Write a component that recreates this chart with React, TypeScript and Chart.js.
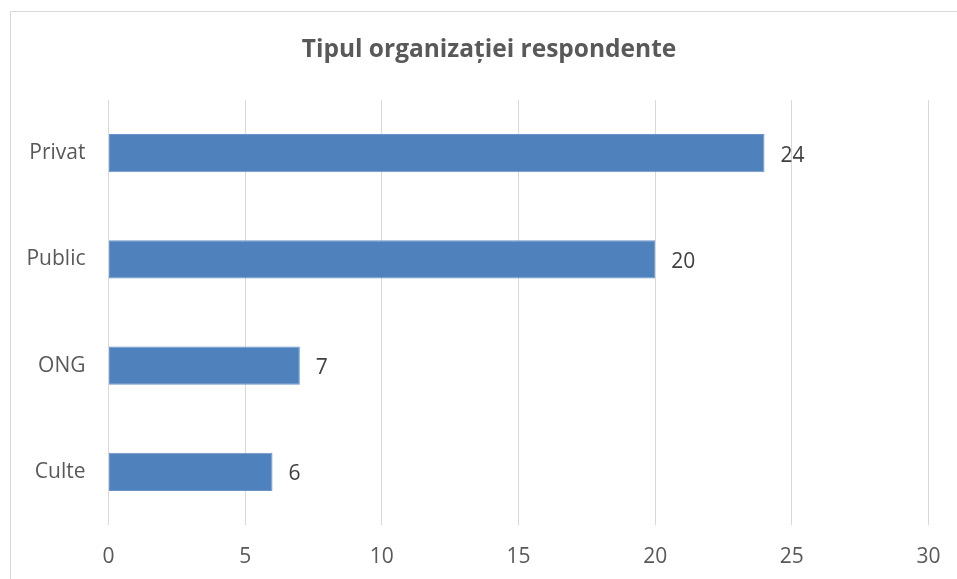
import React, { useEffect, useRef } from "react";
import { Chart, registerables } from "chart.js";

Chart.register(...registerables);

const categories = ["Privat", "Public", "ONG", "Culte"];
const values = [24, 20, 7, 6];
const titleText = "Tipul organizației respondente";
const xMin = 0;
const xMax = 30;
const xStep = 5;

const FONT = "'Open Sans', Lato, sans-serif";

const dataLabelPlugin = {
  id: "dataLabels",
  afterDatasetsDraw(chart: any) {
    const ctx = chart.ctx;
    const meta = chart.getDatasetMeta(0);
    ctx.save();
    ctx.font = `21px ${FONT}`;
    ctx.fillStyle = "#404040";
    ctx.textAlign = "left";
    ctx.textBaseline = "middle";
    meta.data.forEach((bar: any, i: number) => {
      ctx.fillText(String(values[i]), bar.x + 16, bar.y + 2.5);
    });
    ctx.restore();
  },
};

const titlePlugin = {
  id: "customTitle",
  afterDraw(chart: any) {
    const ctx = chart.ctx;
    ctx.save();
    ctx.font = `bold 24.5px ${FONT}`;
    ctx.fillStyle = "#595959";
    ctx.textAlign = "center";
    ctx.textBaseline = "middle";
    ctx.fillText(titleText, 489, 50);
    ctx.restore();
  },
};

export default function App() {
  const ref = useRef<HTMLCanvasElement>(null);
  useEffect(() => {
    if (!ref.current) return;
    const chart = new Chart(ref.current, {
      type: "bar",
      data: {
        labels: categories,
        datasets: [
          {
            data: values,
            backgroundColor: "#4f81bd",
            borderColor: "#6b95c8",
            borderWidth: 1,
            borderSkipped: false,
            barPercentage: 0.36,
            categoryPercentage: 1,
          },
        ],
      },
      options: {
        indexAxis: "y",
        animation: false,
        responsive: false,
        maintainAspectRatio: false,
        layout: { padding: { left: 0, right: 28.5, top: 100, bottom: 0 } },
        plugins: {
          legend: { display: false },
          tooltip: { enabled: false },
          title: { display: false },
        },
        scales: {
          x: {
            min: xMin,
            max: xMax,
            ticks: {
              stepSize: xStep,
              color: "#595959",
              font: { family: FONT, size: 21 },
              padding: 19,
            },
            grid: { color: "#d9d9d9", lineWidth: 1, drawTicks: false },
            border: { display: false },
            afterFit(scale: any) {
              scale.height = 54;
              scale.paddingLeft = 0;
              scale.paddingRight = 0;
            },
          },
          y: {
            ticks: {
              color: "#595959",
              font: { family: FONT, size: 21 },
              padding: 23,
            },
            grid: { display: false, drawTicks: false },
            border: { display: false },
            afterFit(scale: any) {
              scale.width = 108.5;
              scale.paddingTop = 0;
              scale.paddingBottom = 0;
            },
          },
        },
      },
      plugins: [dataLabelPlugin, titlePlugin],
    });
    return () => chart.destroy();
  }, []);

  return (
    <div style={{ position: "fixed", left: 0, top: 0, width: 957, height: 579, background: "#fff", overflow: "hidden" }}>
      <div
        style={{
          position: "absolute",
          left: 10,
          top: 11,
          width: 980,
          height: 620,
          border: "1px solid #d9d9d9",
          boxSizing: "border-box",
        }}
      />
      <canvas ref={ref} width={957} height={579} style={{ position: "absolute", left: 0, top: 0 }} />
    </div>
  );
}
